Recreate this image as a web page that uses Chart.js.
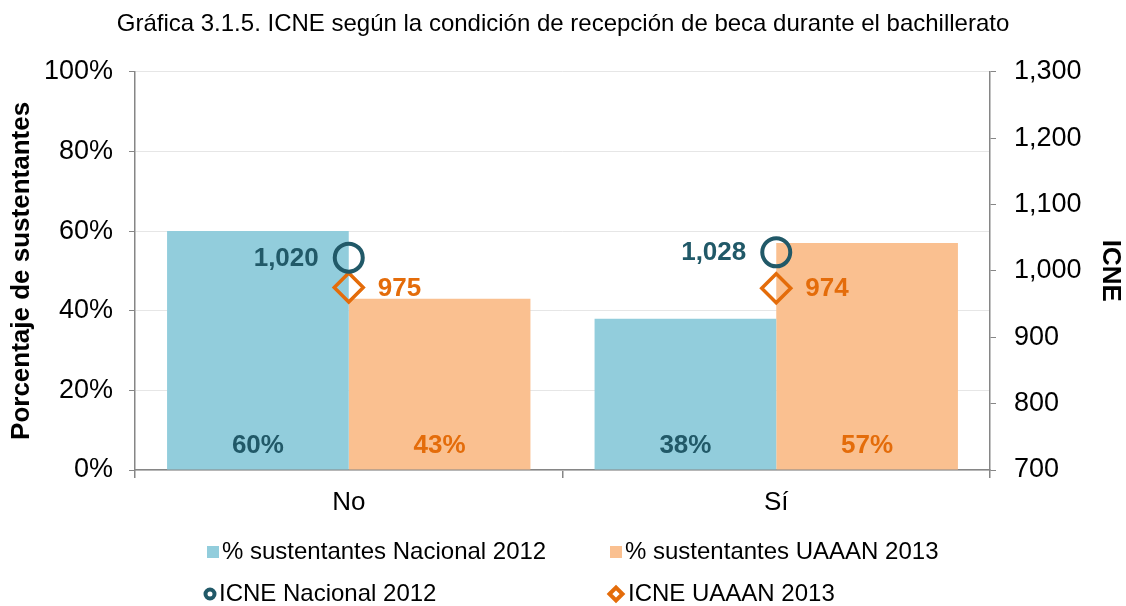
<!DOCTYPE html>
<html>
<head>
<meta charset="utf-8">
<script src="https://cdn.jsdelivr.net/npm/chart.js@4/dist/chart.umd.min.js"></script>
<style>
  body { margin: 0; background: #fff; }
  #wrap { width: 1126px; height: 606px; }
</style>
</head>
<body>
<div id="wrap"><canvas id="icneChart" width="1126" height="606"></canvas></div>
<script>
// data
const categories = ['No', 'Sí'];
const pctNacional2012 = [60, 38];
const pctUaaan2013 = [43, 57];
const icneNacional2012 = [1020, 1028];
const icneUaaan2013 = [975, 974];
const pctTicks = [0, 20, 40, 60, 80, 100];
const icneTicks = [700, 800, 900, 1000, 1100, 1200, 1300];

const BLUE = '#92cddc', ORANGE = '#fac090';
const TEAL = '#215968', DORANGE = '#e46c0a';
const AXIS = '#868686', GRID = '#e6e6e6';
const FONT = "'Liberation Sans', Arial, sans-serif";

Chart.defaults.font.family = FONT;
Chart.defaults.color = '#000';

// value labels on bars and markers
const valueLabels = {
  id: 'valueLabels',
  afterDatasetsDraw(chart) {
    const ctx = chart.ctx;
    ctx.save();
    ctx.font = 'bold 26px ' + FONT;
    ctx.textBaseline = 'middle';
    chart.data.datasets.forEach((ds, i) => {
      const meta = chart.getDatasetMeta(i);
      meta.data.forEach((el, j) => {
        const v = ds.data[j];
        if (ds.type === 'bar') {
          ctx.fillStyle = ds.labelColor;
          ctx.textAlign = 'center';
          ctx.fillText(v + '%', el.x, chart.scales.y.getPixelForValue(0) - 24);
        } else {
          ctx.fillStyle = ds.borderColor;
          const txt = v.toLocaleString('en-US');
          if (ds.labelSide === 'left') {
            ctx.textAlign = 'right';
            ctx.fillText(txt, el.x - 30, el.y + 1);
          } else {
            ctx.textAlign = 'left';
            ctx.fillText(txt, el.x + 29, el.y + 1);
          }
        }
      });
    });
    ctx.restore();
  }
};

// two-row legend below the axis
const gridLegend = {
  id: 'gridLegend',
  afterDraw(chart) {
    const ctx = chart.ctx;
    const spots = [[207, 552], [610, 552], [210, 594], [616, 594]];
    ctx.save();
    ctx.font = '24px ' + FONT;
    ctx.textBaseline = 'middle';
    ctx.textAlign = 'left';
    chart.data.datasets.forEach((ds, i) => {
      const [x, y] = spots[i];
      if (ds.type === 'bar') {
        ctx.fillStyle = ds.backgroundColor;
        ctx.fillRect(x, y - 6, 12, 12);
        ctx.fillStyle = '#000';
        ctx.fillText(ds.label, x + 15, y);
      } else {
        ctx.strokeStyle = ds.borderColor;
        ctx.lineWidth = 4;
        ctx.beginPath();
        if (ds.pointStyle === 'circle') {
          ctx.arc(x, y, 4.5, 0, Math.PI * 2);
        } else {
          ctx.moveTo(x - 6.5, y); ctx.lineTo(x, y - 6.5);
          ctx.lineTo(x + 6.5, y); ctx.lineTo(x, y + 6.5); ctx.closePath();
        }
        ctx.stroke();
        ctx.fillStyle = '#000';
        ctx.fillText(ds.label, x + (ds.pointStyle === 'circle' ? 9 : 12), y);
      }
    });
    ctx.restore();
  }
};

const ctx = document.getElementById('icneChart').getContext('2d');
const icneChart = new Chart(ctx, {
  data: {
    labels: categories,
    datasets: [
      {
        type: 'bar',
        label: '% sustentantes Nacional 2012',
        data: pctNacional2012,
        backgroundColor: BLUE,
        labelColor: TEAL,
        yAxisID: 'y',
        order: 3
      },
      {
        type: 'bar',
        label: '% sustentantes UAAAN 2013',
        data: pctUaaan2013,
        backgroundColor: ORANGE,
        labelColor: DORANGE,
        yAxisID: 'y',
        order: 4
      },
      {
        type: 'line',
        label: 'ICNE Nacional 2012',
        data: icneNacional2012,
        showLine: false,
        pointStyle: 'circle',
        pointRadius: 14,
        pointBorderWidth: 4,
        borderColor: TEAL,
        backgroundColor: 'rgba(0,0,0,0)',
        labelSide: 'left',
        yAxisID: 'y1',
        order: 1
      },
      {
        type: 'line',
        label: 'ICNE UAAAN 2013',
        data: icneUaaan2013,
        showLine: false,
        pointStyle: 'rectRot',
        pointRadius: 14.5,
        pointBorderWidth: 3.5,
        borderColor: DORANGE,
        backgroundColor: 'rgba(0,0,0,0)',
        labelSide: 'right',
        yAxisID: 'y1',
        order: 2
      }
    ]
  },
  options: {
    responsive: false,
    animation: false,
    layout: { padding: 0 },
    datasets: {
      bar: { categoryPercentage: 0.85, barPercentage: 1 }
    },
    plugins: {
      legend: { display: false },
      tooltip: { enabled: false },
      title: {
        display: true,
        text: 'Gráfica 3.1.5. ICNE según la condición de recepción de beca durante el bachillerato',
        font: { size: 24, weight: 'normal' },
        color: '#000',
        padding: { top: 10, bottom: 33 }
      }
    },
    scales: {
      x: {
        offset: true,
        grid: { offset: true, drawOnChartArea: false, tickColor: AXIS, tickLength: 8, lineWidth: 1.5 },
        border: { color: AXIS, width: 1.5 },
        ticks: { font: { size: 26 }, padding: 9, color: '#000' },
        afterFit(s) { s.height = 136; }
      },
      y: {
        position: 'left',
        min: 0, max: 100,
        afterBuildTicks(s) { s.ticks = pctTicks.map(v => ({ value: v })); },
        ticks: { callback: v => v + '%', font: { size: 27 }, padding: 16, color: '#000' },
        grid: { color: GRID, tickColor: AXIS, tickLength: 6 },
        border: { color: AXIS, width: 1.5 },
        title: {
          display: true,
          text: 'Porcentaje de sustentantes',
          font: { size: 26, weight: 'bold' },
          color: '#000',
          padding: { top: 6, bottom: 0 }
        },
        afterFit(s) { s.width = 135; }
      },
      y1: {
        position: 'right',
        min: 700, max: 1300,
        afterBuildTicks(s) { s.ticks = icneTicks.map(v => ({ value: v })); },
        ticks: { callback: v => v.toLocaleString('en-US'), font: { size: 27 }, padding: 18, color: '#000' },
        grid: { drawOnChartArea: false, tickColor: AXIS, tickLength: 6 },
        border: { color: AXIS, width: 1.5 },
        title: {
          display: true,
          text: 'ICNE',
          font: { size: 26, weight: 'bold' },
          color: '#000',
          padding: { top: 0, bottom: 0 }
        },
        afterFit(s) { s.width = 136; }
      }
    }
  },
  plugins: [valueLabels, gridLegend]
});
</script>
</body>
</html>
